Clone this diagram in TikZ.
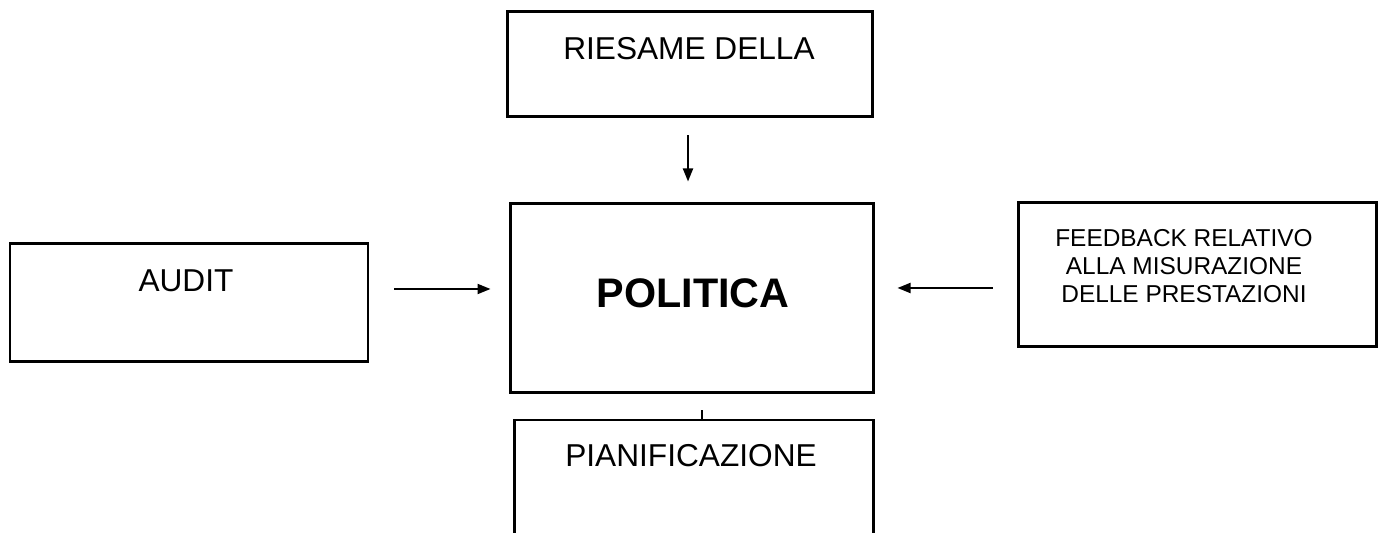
\documentclass[tikz,border=0pt]{standalone}
\usepackage{fontspec}
\setmainfont{Liberation Sans}
\usetikzlibrary{arrows.meta}

\tikzset{
    box/.style={draw, line width=1.7pt, inner sep=0pt},
    arrow/.style={line width=1.1pt, -{Triangle[length=0.26cm, width=0.2cm]}},
    boxtext/.style={inner sep=0pt, font=\fontsize{18}{21}\selectfont}
}

\begin{document}
\begin{tikzpicture}
                \coordinate (LB) at (0,0);
                \coordinate (RT) at (27.6,10.66);

                \useasboundingbox (LB) rectangle (RT);
                \clip (LB) rectangle (RT);

                \node[box, minimum width=7.3cm, minimum height=2.1cm] (riesame) at (13.79,9.37) {};
                \node[box, minimum width=7.26cm, minimum height=3.78cm] (politica) at (13.83,4.69) {};
                \node[box, minimum width=7.16cm, minimum height=2.36cm] (audit) at (3.78,4.60) {};
                \node[box, minimum width=7.16cm, minimum height=2.88cm] (feedback) at (23.94,5.16) {};
                \node[box, minimum width=7.18cm, minimum height=3cm] (pianificazione) at (13.87,0.76) {}; % cut off at the bottom

                \node[boxtext] (riesame text) at (13.78,9.68) {RIESAME DELLA};
                \node[boxtext] (audit text) at (3.72,5.04) {AUDIT};
                \node[inner sep=0pt, font=\fontsize{23.5}{28}\selectfont\bfseries] (politica text) at (13.86,4.80) {POLITICA};
                \node[inner sep=0pt, align=center, font=\fontsize{13.9}{16.1}\selectfont] (feedback text) at (23.68,5.34) {FEEDBACK RELATIVO\\ALLA MISURAZIONE\\DELLE PRESTAZIONI};
                \node[boxtext] (pianificazione text) at (13.82,1.54) {PIANIFICAZIONE};

                \draw[arrow, shorten <=0.34cm, shorten >=0.42cm] ([xshift=-0.03cm]riesame.south) -- ([xshift=-0.03cm]riesame.south |- politica.north);
                \draw[arrow, shorten <=0.5cm, shorten >=0.36cm] ([yshift=0.28cm]audit.east) -- ([yshift=0.19cm]politica.west);
                \draw[arrow, shorten <=0.48cm, shorten >=0.46cm] ([yshift=-0.26cm]feedback.west) -- ([yshift=0.21cm]politica.east);

                \coordinate (tick) at ([xshift=0.21cm, yshift=-0.32cm]politica.south);
                \draw[line width=1.1pt] (tick) -- (tick |- pianificazione.north); % small link
            \end{tikzpicture}
\end{document}
